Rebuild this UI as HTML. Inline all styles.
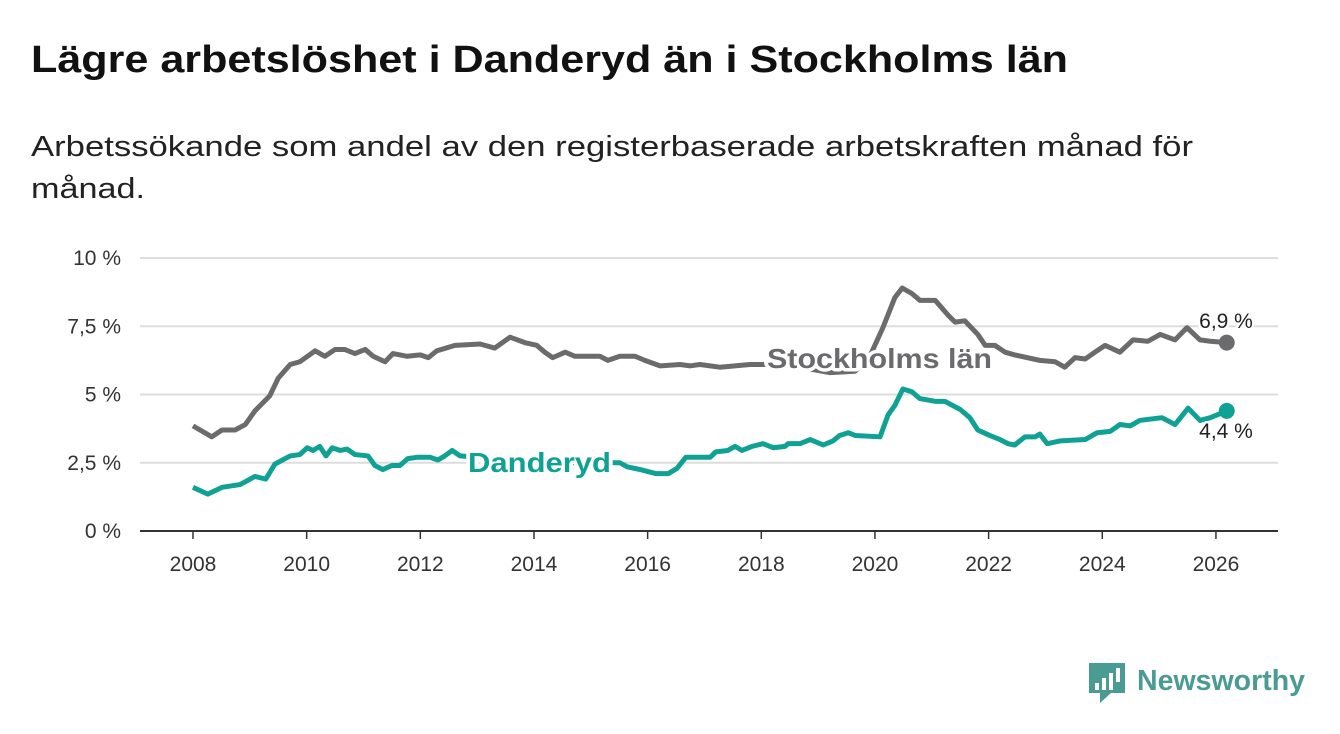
<!DOCTYPE html>
<html><head><meta charset="utf-8"><style>
body{margin:0;background:#fff;width:1340px;height:734px;overflow:hidden;font-family:"Liberation Sans","DejaVu Sans",sans-serif}
</style></head><body>
<svg width="1340" height="734" style="position:absolute;left:0;top:0">
<text x="31" y="72" font-size="38" font-weight="bold" fill="#111" textLength="1037" lengthAdjust="spacingAndGlyphs">Lägre arbetslöshet i Danderyd än i Stockholms län</text>
<text x="31" y="156" font-size="29" fill="#222" textLength="1162" lengthAdjust="spacingAndGlyphs">Arbetssökande som andel av den registerbaserade arbetskraften månad för</text>
<text x="31" y="198" font-size="29" fill="#222" textLength="114" lengthAdjust="spacingAndGlyphs">månad.</text>
<g id="grid"></g><g id="xaxis"></g><g id="lines"></g><g id="labels"></g>
<g>
<path d="M1089 663h36v30h-14l-11 10v-10h-11z" fill="#4a9b93"/>
<rect x="1095" y="683" width="4" height="7" fill="#fff"/><rect x="1102" y="678" width="4" height="12" fill="#fff"/><rect x="1109" y="673" width="4" height="17" fill="#fff"/><rect x="1116" y="668" width="4" height="14" fill="#fff"/>
<text x="1137" y="690" font-size="29" font-weight="bold" fill="#4a9b93" textLength="168" lengthAdjust="spacingAndGlyphs">Newsworthy</text>
</g>
</svg>
<script>
const stockYears=[2008.00,2008.33,2008.51,2008.74,2008.92,2009.09,2009.35,2009.50,2009.71,2009.88,2010.15,2010.32,2010.50,2010.67,2010.85,2011.03,2011.17,2011.38,2011.52,2011.77,2012.00,2012.14,2012.29,2012.61,2013.05,2013.31,2013.58,2013.84,2014.05,2014.19,2014.33,2014.55,2014.72,2015.16,2015.30,2015.51,2015.78,2015.95,2016.22,2016.57,2016.75,2016.92,2017.27,2017.80,2018.15,2018.68,2019.21,2019.65,2019.91,2020.14,2020.35,2020.48,2020.65,2020.79,2021.06,2021.29,2021.41,2021.58,2021.81,2021.94,2022.11,2022.29,2022.46,2022.90,2023.17,2023.34,2023.52,2023.70,2023.87,2024.05,2024.31,2024.54,2024.80,2025.02,2025.28,2025.49,2025.72,2025.90,2026.19];
const stockValues=[3.85,3.45,3.7,3.7,3.9,4.4,4.95,5.6,6.1,6.2,6.6,6.4,6.65,6.65,6.5,6.65,6.4,6.2,6.5,6.4,6.45,6.35,6.6,6.8,6.85,6.7,7.1,6.9,6.8,6.55,6.35,6.55,6.4,6.4,6.25,6.4,6.4,6.25,6.05,6.1,6.05,6.1,6.0,6.1,6.1,6.0,5.8,5.85,6.4,7.45,8.55,8.9,8.7,8.45,8.45,7.9,7.65,7.7,7.2,6.8,6.8,6.55,6.45,6.25,6.2,6.0,6.35,6.3,6.55,6.8,6.55,7.0,6.95,7.2,7.0,7.45,7.0,6.95,6.9];
const danYears=[2008.00,2008.26,2008.51,2008.83,2009.09,2009.28,2009.44,2009.71,2009.88,2010.01,2010.11,2010.23,2010.34,2010.45,2010.59,2010.71,2010.85,2011.08,2011.20,2011.34,2011.50,2011.64,2011.78,2011.94,2012.17,2012.31,2012.43,2012.56,2012.70,2013.0,2013.5,2014.0,2014.5,2015.0,2015.51,2015.64,2015.87,2016.15,2016.36,2016.52,2016.67,2017.10,2017.20,2017.41,2017.54,2017.66,2017.84,2018.03,2018.21,2018.42,2018.47,2018.68,2018.86,2019.09,2019.26,2019.38,2019.53,2019.65,2020.09,2020.23,2020.35,2020.49,2020.65,2020.79,2021.06,2021.23,2021.50,2021.67,2021.81,2022.02,2022.20,2022.34,2022.46,2022.64,2022.82,2022.90,2023.03,2023.26,2023.70,2023.91,2024.14,2024.31,2024.49,2024.66,2025.05,2025.28,2025.51,2025.72,2025.90,2026.19];
const danValues=[1.6,1.35,1.6,1.7,2.0,1.9,2.45,2.75,2.8,3.05,2.95,3.1,2.75,3.05,2.95,3.0,2.8,2.75,2.4,2.25,2.4,2.4,2.65,2.7,2.7,2.6,2.75,2.95,2.75,2.7,2.6,2.6,2.5,2.5,2.5,2.35,2.25,2.1,2.1,2.3,2.7,2.7,2.9,2.95,3.1,2.95,3.1,3.2,3.05,3.1,3.2,3.2,3.35,3.15,3.3,3.5,3.6,3.5,3.45,4.25,4.6,5.2,5.1,4.85,4.75,4.75,4.45,4.15,3.7,3.5,3.35,3.2,3.15,3.45,3.45,3.55,3.2,3.3,3.35,3.6,3.65,3.9,3.85,4.05,4.15,3.9,4.5,4.05,4.15,4.4];
const yTicks=[0,2.5,5,7.5,10];
const yTickLabels=["0 %","2,5 %","5 %","7,5 %","10 %"];
const xTicks=[2008,2010,2012,2014,2016,2018,2020,2022,2024,2026];
const NS='http://www.w3.org/2000/svg';
const X=y=>193+(y-2008)*56.83, Y=v=>531-v*27.3;
function mk(t,a,p){const e=document.createElementNS(NS,t);for(const k in a)e.setAttribute(k,a[k]);p.appendChild(e);return e;}
const g=document.getElementById('grid');
yTicks.forEach((t,i)=>{
 const l=mk('line',{x1:140,x2:1278,y1:Y(t),y2:Y(t),stroke:t===0?'#333':'#ddd','stroke-width':2},g);
 
 
 const tx=mk('text',{x:121,y:Y(t)+7,'text-anchor':'end','font-size':21,fill:'#333'},g);tx.textContent=yTickLabels[i];
 
 
});
const xa=document.getElementById('xaxis');
xTicks.forEach(t=>{
 mk('line',{x1:X(t),x2:X(t),y1:531,y2:539,stroke:'#333','stroke-width':1.5},xa);
 const tx=mk('text',{x:X(t),y:571,'text-anchor':'middle','font-size':21,fill:'#333'},xa);tx.textContent=t;
 
 
});
const L=document.getElementById('lines');
function series(xs,vs,c,name){
 const p=mk('polyline',{points:xs.map((x,i)=>X(x)+','+Y(vs[i])).join(' '),fill:'none',stroke:c,'stroke-width':5,'stroke-linejoin':'round'},L);
 
 
 const n=xs.length-1;
 const d=mk('circle',{cx:X(xs[n]),cy:Y(vs[n]),r:8,fill:c},L);
 
 
}
series(stockYears,stockValues,'#6b6b6d','stockholm');
series(danYears,danValues,'#0fa294','danderyd');
const lb=document.getElementById('labels');
function lab(x,y,t,c,fs,w,name,anchor,len){
 const e=mk('text',{x:x,y:y,'font-size':fs,'font-weight':w,fill:c,stroke:'#fff','stroke-width':w==='bold'?7:5,'paint-order':'stroke','stroke-linejoin':'round','text-anchor':anchor||'start'},lb);
 if(len){e.setAttribute('textLength',len);e.setAttribute('lengthAdjust','spacingAndGlyphs');}
 e.textContent=t;
 
 
}
lab(767,368,'Stockholms län','#6b6b6d',28,'bold','stockholm-series-label',null,225);
lab(468,472,'Danderyd','#0fa294',28,'bold','danderyd-series-label',null,143);
lab(1226,328,'6,9 %','#222',21,'normal','stockholm-end-value','middle');
lab(1226,438,'4,4 %','#222',21,'normal','danderyd-end-value','middle');
</script>
</body></html>
